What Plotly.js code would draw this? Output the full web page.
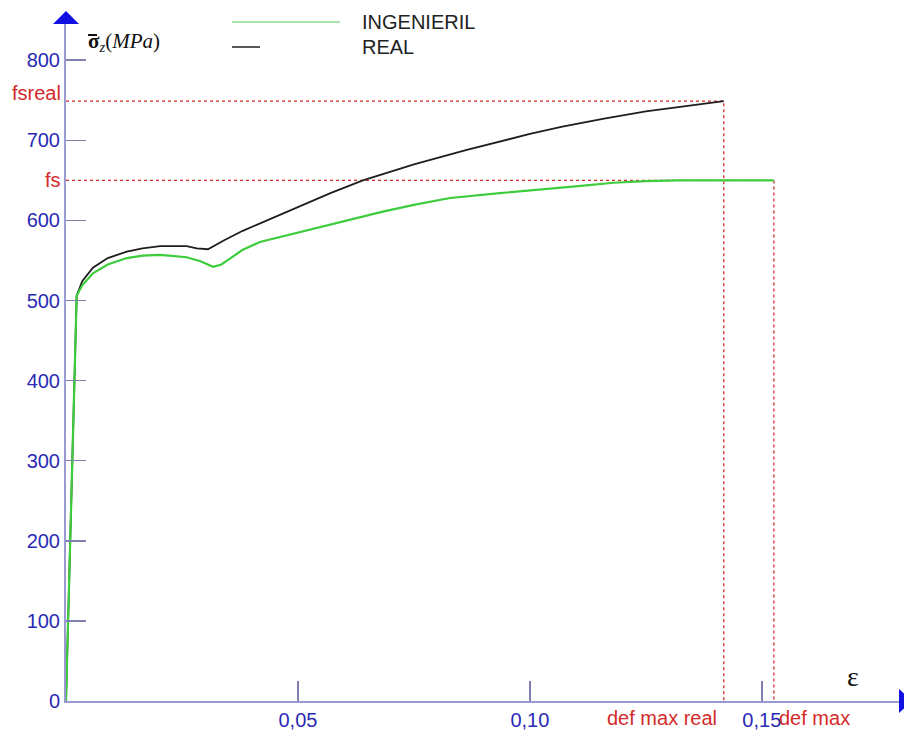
<!DOCTYPE html>
<html>
<head>
<meta charset="utf-8">
<script src="https://cdn.plot.ly/plotly-3.0.1.min.js"></script>
<style>html,body{margin:0;padding:0;background:#fff;}#chart{width:904px;height:733px;}</style>
</head>
<body>
<div id="chart"></div>
<script>
// Data
const realStrain = [0, 0.0023, 0.0035, 0.0058, 0.009, 0.0131, 0.0165, 0.0203, 0.026, 0.0282, 0.0306, 0.034, 0.0381, 0.045, 0.05, 0.057, 0.064, 0.075, 0.0864, 0.10, 0.107, 0.116, 0.125, 0.1418];
const realStress = [0, 506, 524, 541, 553, 561, 565, 568, 568, 565, 564, 575, 587, 604, 616, 634, 650, 670, 688, 708, 717, 727, 736, 749];
const engStrain = [0, 0.0023, 0.0035, 0.0058, 0.009, 0.0131, 0.0165, 0.0203, 0.026, 0.029, 0.0317, 0.0335, 0.0355, 0.038, 0.0418, 0.048, 0.054, 0.061, 0.0683, 0.0755, 0.0828, 0.0935, 0.1037, 0.111, 0.118, 0.125, 0.132, 0.1418, 0.1526];
const engStress = [0, 506, 519, 534, 545, 553, 556, 557, 554, 549, 542, 545, 553, 563, 573, 582, 590, 601, 611, 620, 628, 634, 639, 643, 647, 649, 650, 650, 650];
const fsReal = 749;
const fs = 650;
const defMaxReal = 0.1418;
const defMax = 0.1526;
const xTickVals = [0.05, 0.10, 0.15];
const xTickText = ["0,05", "0,10", "0,15"];
const yTickVals = [0, 100, 200, 300, 400, 500, 600, 700, 800];
const seriesNames = ["INGENIERIL", "REAL"];

const red = "#d42a2a";
const blueTxt = "#2a2ab4";
const axisCol = "#9a9ad0";
const sans = "Liberation Sans, Arial, sans-serif";
const serif = "Liberation Serif, Times New Roman, serif";

const dashStyle = {color: red, width: 1.3, dash: "3px,3px"};

const traces = [
  {x: [0, defMaxReal, defMaxReal], y: [fsReal, fsReal, 0], mode: "lines", line: dashStyle, hoverinfo: "skip"},
  {x: [0, defMax, defMax], y: [fs, fs, 0], mode: "lines", line: dashStyle, hoverinfo: "skip"},
  {x: realStrain, y: realStress, name: seriesNames[1], mode: "lines", line: {color: "#1e1e1e", width: 1.8}},
  {x: engStrain, y: engStress, name: seriesNames[0], mode: "lines", line: {color: "#3ccc3c", width: 2.2}}
];

// paper helpers: plot area px 66..901 horizontally, 18..701 vertically
const PW = 835, PH = 683;
const px = v => (v - 66) / PW;
const py = v => (701 - v) / PH;

const layout = {
  width: 904, height: 733,
  margin: {l: 66, r: 3, t: 18, b: 32},
  paper_bgcolor: "#fff", plot_bgcolor: "#fff",
  showlegend: false,
  xaxis: {
    range: [0, 0.18], showgrid: false, zeroline: false,
    showline: true, linecolor: axisCol, linewidth: 2,
    tickmode: "array", tickvals: xTickVals, ticktext: xTickText,
    ticks: "inside", ticklen: 20, tickwidth: 1.5, tickcolor: "#8080b0",
    tickfont: {family: sans, size: 20, color: blueTxt}
  },
  yaxis: {
    range: [0, 852.7], showgrid: false, zeroline: false,
    showline: true, linecolor: axisCol, linewidth: 2,
    tickmode: "array", tickvals: yTickVals,
    ticks: "inside", ticklen: 20, tickwidth: 1.5, tickcolor: "#8080b0",
    tickfont: {family: sans, size: 20, color: blueTxt}
  },
  shapes: [
    {type: "path", xref: "paper", yref: "paper",
     path: `M ${px(66)} ${py(11)} L ${px(53)} ${py(24)} L ${px(79)} ${py(24)} Z`,
     fillcolor: "#1010e0", line: {width: 0}},
    {type: "path", xref: "paper", yref: "paper",
     path: `M ${px(912)} ${py(701)} L ${px(899)} ${py(689)} L ${px(899)} ${py(713)} Z`,
     fillcolor: "#1010e0", line: {width: 0}},
    {type: "line", xref: "paper", yref: "paper", x0: px(232), x1: px(340), y0: py(22), y1: py(22),
     line: {color: "#8ddc8d", width: 1.5}},
    {type: "line", xref: "paper", yref: "paper", x0: px(232), x1: px(260), y0: py(47), y1: py(47),
     line: {color: "#222", width: 1.5}},
    {type: "line", xref: "paper", yref: "paper", x0: px(88), x1: px(97), y0: py(35), y1: py(35),
     line: {color: "#111", width: 2}}
  ],
  annotations: [
    {xref: "paper", yref: "paper", x: px(360), y: py(22), xanchor: "left", yanchor: "middle",
     text: seriesNames[0], showarrow: false, font: {family: sans, size: 20, color: "#222"}},
    {xref: "paper", yref: "paper", x: px(360), y: py(47), xanchor: "left", yanchor: "middle",
     text: seriesNames[1], showarrow: false, font: {family: sans, size: 20, color: "#222"}},
    {xref: "paper", yref: "paper", x: px(86), y: py(42), xanchor: "left", yanchor: "middle",
     text: "<b>σ</b><sub><i>z</i></sub>(<i>MPa</i>)", showarrow: false,
     font: {family: serif, size: 21, color: "#111"}},
    {xref: "paper", yref: "paper", x: px(853), y: py(676), xanchor: "center", yanchor: "middle",
     text: "ε", showarrow: false, font: {family: serif, size: 28, color: "#111"}},
    {xref: "paper", yref: "y", x: px(63), y: fsReal, yshift: 8, xanchor: "right", yanchor: "middle",
     text: "fsreal", showarrow: false, font: {family: sans, size: 20, color: red}},
    {xref: "paper", yref: "y", x: px(63), y: fs, xanchor: "right", yanchor: "middle",
     text: "fs", showarrow: false, font: {family: sans, size: 20, color: red}},
    {xref: "x", yref: "paper", x: defMaxReal, xshift: -5, y: py(718), xanchor: "right", yanchor: "middle",
     text: "def max real", showarrow: false, font: {family: sans, size: 20, color: red}},
    {xref: "x", yref: "paper", x: defMax, xshift: 3, y: py(718), xanchor: "left", yanchor: "middle",
     text: "def max", showarrow: false, font: {family: sans, size: 20, color: red}}
  ]
};

Plotly.newPlot("chart", traces, layout, {displayModeBar: false, staticPlot: true});
</script>
</body>
</html>
